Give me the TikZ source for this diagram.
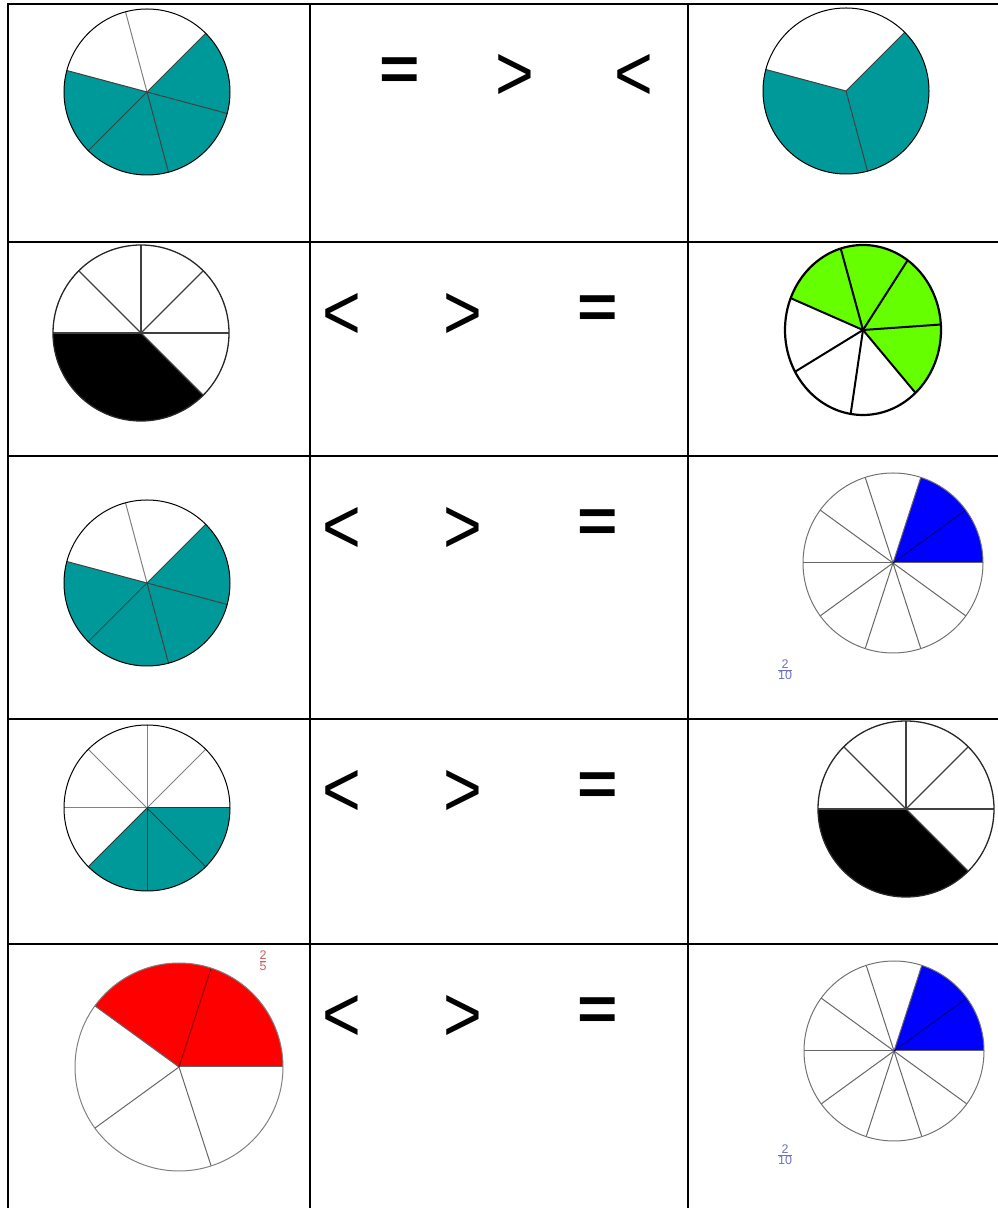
\documentclass[tikz,border=0pt]{standalone}
\usepackage{fontspec}
\setmainfont{Liberation Sans}
\definecolor{pieteal}{RGB}{0,153,153}
\definecolor{pielime}{RGB}{102,255,0}
\definecolor{fracblue}{RGB}{110,110,200}
\definecolor{fracred}{RGB}{205,95,95}
\tikzset{
  grid line/.style={line width=2pt, black},
  signtext/.style={font=\fontsize{79}{80}\selectfont, inner sep=0pt, xscale=0.84},
  eqtext/.style={font=\fontsize{63}{64}\selectfont\bfseries, inner sep=0pt, xscale=1.1},
  fractext/.style={font=\fontsize{12.5}{14}\selectfont, inner sep=0pt},
}
\begin{document}
\begin{tikzpicture}[x=1pt,y=1pt]
  \useasboundingbox (0,0) rectangle (998,1208);

  % table
  \draw[grid line] (8,1204) -- (998,1204);
  \draw[grid line] (8,966) -- (998,966);
  \draw[grid line] (8,752) -- (998,752);
  \draw[grid line] (8,489) -- (998,489);
  \draw[grid line] (8,264) -- (998,264);
  \draw[grid line] (8,0) -- (8,1205);
  \draw[grid line] (310,0) -- (310,1205);
  \draw[grid line] (688,0) -- (688,1205);

  % row 1, left: 4 of 6
  \coordinate (pA) at (147,1116);
  \fill[pieteal] (pA) -- ++(-195:83) arc[start angle=-195, end angle=45, radius=83] -- cycle;
  \draw[gray, line width=1pt] (pA) -- ++(105:83);
  \foreach \a in {165,45,-15,-75,-135}
    \draw[black!75, line width=1pt] (pA) -- ++(\a:83);
  \draw[line width=1pt] (pA) circle[radius=83];

  % row 1, right: 2 of 3
  \coordinate (pB) at (846,1117);
  \fill[pieteal] (pB) -- ++(-195:83) arc[start angle=-195, end angle=45, radius=83] -- cycle;
  \foreach \a in {165,45,-75}
    \draw[black!75, line width=1pt] (pB) -- ++(\a:83);
  \draw[line width=1pt] (pB) circle[radius=83];

  % row 2, left: 3 of 8
  \coordinate (pC) at (141,875);
  \fill[black] (pC) -- ++(180:88) arc[start angle=180, end angle=315, radius=88] -- cycle;
  \foreach \a in {0,45,90,135,180,-45}
    \draw[black!75, line width=1.3pt] (pC) -- ++(\a:88);
  \draw[black!85, line width=1.3pt] (pC) circle[radius=88];

  % row 2, right: 4 of 7
  \coordinate (pD) at (863,878);
  \fill[pielime] (pD) -- ++(-47.7:78 and 85) arc[start angle=-47.7, end angle=158, x radius=78, y radius=85] -- cycle;
  \foreach \a in {158,106.6,55.1,3.7,-47.7,-99.1,-150.6}
    \draw[line width=2pt] (pD) -- ++(\a:78 and 85);
  \draw[line width=2.2pt] (pD) ellipse[x radius=78, y radius=85];

  % row 3, left: 4 of 6
  \coordinate (pE) at (147,625);
  \fill[pieteal] (pE) -- ++(-195:83) arc[start angle=-195, end angle=45, radius=83] -- cycle;
  \draw[gray, line width=1pt] (pE) -- ++(105:83);
  \foreach \a in {165,45,-15,-75,-135}
    \draw[black!75, line width=1pt] (pE) -- ++(\a:83);
  \draw[line width=1pt] (pE) circle[radius=83];

  % row 3, right: 2 of 10
  \coordinate (pF) at (893,645);
  \fill[blue] (pF) -- ++(0:90) arc[start angle=0, end angle=72, radius=90] -- cycle;
  \foreach \a in {72,108,...,360}
    \draw[black!60, line width=1pt] (pF) -- ++(\a:90);
  \draw[blue!50!black, line width=1pt] (pF) -- ++(36:90);
  \draw[black!55, line width=1pt] (pF) circle[radius=90];
  \node[fractext, text=fracblue] (fracF) at (785,538) {${\hbox{2}\over\hbox{10}}$};

  % row 4, left: 3 of 8
  \coordinate (pG) at (147,400);
  \fill[pieteal] (pG) -- ++(-135:83) arc[start angle=-135, end angle=0, radius=83] -- cycle;
  \foreach \a in {45,90,135,180}
    \draw[gray, line width=1pt] (pG) -- ++(\a:83);
  \foreach \a in {0,-45,-90,-135}
    \draw[black!80, line width=1pt] (pG) -- ++(\a:83);
  \draw[line width=1pt] (pG) circle[radius=83];

  % row 4, right: 3 of 8
  \coordinate (pH) at (906,399);
  \fill[black] (pH) -- ++(180:88) arc[start angle=180, end angle=315, radius=88] -- cycle;
  \foreach \a in {0,45,90,135,180,-45}
    \draw[black!75, line width=1.3pt] (pH) -- ++(\a:88);
  \draw[black!85, line width=1.3pt] (pH) circle[radius=88];

  % row 5, left: 2 of 5
  \coordinate (pI) at (179,141);
  \fill[red] (pI) -- ++(0:104) arc[start angle=0, end angle=144, radius=104] -- cycle;
  \foreach \a in {0,144,216,288}
    \draw[black!60, line width=1pt] (pI) -- ++(\a:104);
  \draw[red!55!black, line width=1pt] (pI) -- ++(72:104);
  \draw[black!50, line width=1pt] (pI) circle[radius=104];
  \node[fractext, text=fracred] (fracI) at (263,247) {${\hbox{2}\over\hbox{5}}$};

  % row 5, right: 2 of 10
  \coordinate (pJ) at (894,157);
  \fill[blue] (pJ) -- ++(0:90) arc[start angle=0, end angle=72, radius=90] -- cycle;
  \foreach \a in {72,108,...,360}
    \draw[black!60, line width=1pt] (pJ) -- ++(\a:90);
  \draw[blue!50!black, line width=1pt] (pJ) -- ++(36:90);
  \draw[black!55, line width=1pt] (pJ) circle[radius=90];
  \node[fractext, text=fracblue] (fracJ) at (785,53) {${\hbox{2}\over\hbox{10}}$};

  % signs
  \node[eqtext] (eqA) at (400,1134) {=};
  \node[signtext] (gtA) at (515,1131) {>};
  \node[signtext] (ltA) at (634,1131) {<};
  \node[signtext] (ltB) at (342,892) {<};
  \node[signtext] (gtB) at (463,892) {>};
  \node[eqtext] (eqB) at (598,896) {=};
  \node[signtext] (ltC) at (342,678) {<};
  \node[signtext] (gtC) at (463,678) {>};
  \node[eqtext] (eqC) at (598,682) {=};
  \node[signtext] (ltD) at (342,415) {<};
  \node[signtext] (gtD) at (463,415) {>};
  \node[eqtext] (eqD) at (598,419) {=};
  \node[signtext] (ltE) at (342,190) {<};
  \node[signtext] (gtE) at (463,190) {>};
  \node[eqtext] (eqE) at (598,194) {=};
\end{tikzpicture}
\end{document}
